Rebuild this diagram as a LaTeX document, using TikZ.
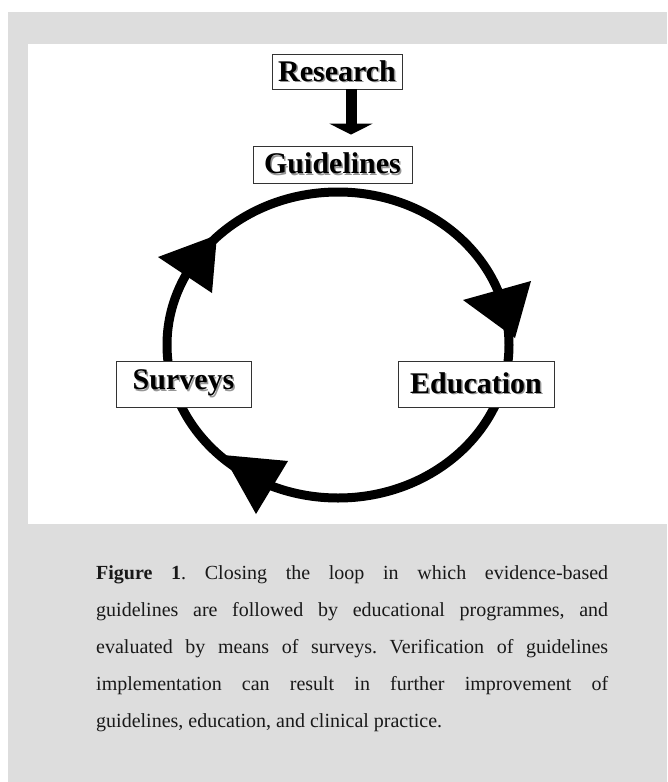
\documentclass[tikz,border=0pt]{standalone}
\usepackage{fontspec}
\setmainfont{Liberation Serif}
\usetikzlibrary{arrows.meta}
\definecolor{panelgray}{RGB}{221,221,221}
\definecolor{shadowgray}{RGB}{150,150,150}
\newcommand\shadowed[1]{\makebox[0pt][l]{\hspace{1.5pt}\raisebox{-1.5pt}{\textcolor{shadowgray}{#1}}}#1}
\tikzset{
    stage/.style = { draw=black!80, line width=0.8pt, fill=white, inner sep=0pt, font=\fontsize{30}{32}\selectfont\bfseries },
    loopline/.style = { line width=9pt, black },
    loophead/.style = { fill=black },
    feed/.style = { line width=11pt, -{Triangle[width=43pt, length=11pt]} },
    caption/.style = { text width=512pt, align=justify, inner sep=0pt, anchor=base west, text=black!90, font=\fontsize{20}{37}\selectfont }
}

\begin{document}
\begin{tikzpicture}[x=1pt, y=-1pt]
    %%% Picture in pixel units of the 667 x 782 figure, y going down.
    \useasboundingbox (0,0) rectangle (667,782);

    %%%
    %%% Backgrounds
    %%%
    \fill[panelgray] (8,12) rectangle (667,782);
    \fill[white] (28,44) rectangle (667,524);

    %%%
    %%% The loop
    %%%
    \coordinate (hub) at (338,345);
    \draw[loopline] (hub) ellipse [x radius=171, y radius=153];
    % Heads on the loop
    \fill[loophead] (463,300) -- (531,281) -- (515,338) -- cycle;
    \fill[loophead] (223,455) -- (288,461) -- (256,514) -- cycle;
    \fill[loophead] (217,235) -- (212,293) -- (158,257) -- cycle;

    %%%
    %%% Stages: name, position, width, height, text
    %%%
    \foreach \name / \px / \py / \boxw / \boxh / \txt in {research/337/71.5/130/35/Research, guidelines/332.5/164.5/159/37/Guidelines, surveys/183.5/384/135/46/Surveys, education/476/384/156/46/Education}
      {
        \node[stage, minimum width=\boxw pt, minimum height=\boxh pt] (\name) at (\px,\py) {\shadowed{\txt}};
      }
    % Research feeds the guidelines
    \draw[feed, shorten >=11pt] ([xshift=14pt]research.south) -- ([xshift=14pt]research.south |- guidelines.north);

    %%%
    %%% Caption
    %%%
    \node[caption] (legend) at (96,579) {\hyphenpenalty=10000 \frenchspacing
      {\bfseries Figure 1}. Closing the loop in which evidence-based\linebreak
      guidelines are followed by educational programmes, and\linebreak
      evaluated by means of surveys. Verification of guidelines\linebreak
      implementation can result in further improvement of\linebreak
      guidelines, education, and clinical practice.};
\end{tikzpicture}
\end{document}
